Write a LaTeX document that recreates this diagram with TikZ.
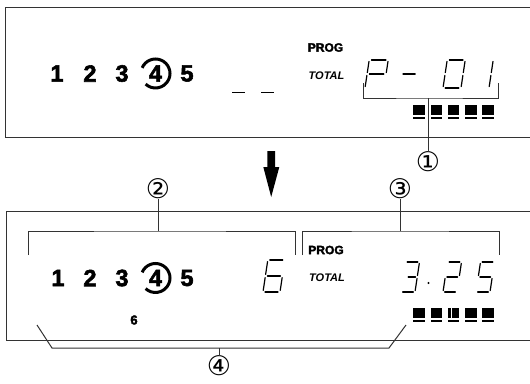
\documentclass[tikz,border=0pt]{standalone}
\usepackage{fontspec}
\setmainfont{Liberation Sans}
\newfontfamily\heavyfont{Liberation Sans}[BoldFeatures={FakeBold=2.5}]
\newfontfamily\circfont{DejaVu Sans}
\def\dgP{0.12/1/0.88/1, 1/0.55/1/0.95, 0/0.55/0/0.95, 0.12/0.5/0.88/0.5, 0/0.05/0/0.45}
\def\dgDash{0.12/0.5/0.88/0.5}
\def\dgZero{0.12/1/0.88/1, 1/0.55/1/0.95, 1/0.05/1/0.45, 0.12/0/0.88/0, 0/0.05/0/0.45, 0/0.55/0/0.95}
\def\dgOne{1/0.55/1/0.95, 1/0.05/1/0.45}
\def\dgThree{0.12/1/0.88/1, 1/0.55/1/0.95, 1/0.05/1/0.45, 0.12/0/0.88/0, 0.35/0.5/0.88/0.5}
\def\dgTwo{0.12/1/0.88/1, 1/0.55/1/0.95, 0.12/0.5/0.88/0.5, 0/0.05/0/0.45, 0.12/0/0.88/0}
\def\dgFive{0.12/1/0.88/1, 0/0.55/0/0.95, 0.12/0.5/0.88/0.5, 1/0.05/1/0.45, 0.12/0/0.88/0}
\def\dgSix{0.12/1/0.88/1, 0/0.55/0/0.95, 0.12/0.5/0.88/0.5, 0/0.05/0/0.45, 1/0.05/1/0.45, 0.12/0/0.88/0}
\newcommand\ssd[5]{\foreach \ua/\va/\ub/\vb in #5 {\draw[segline] ({#1+\ua*#3+\va*0.15*#4},{#2-\va*#4}) -- ({#1+\ub*#3+\vb*0.15*#4},{#2-\vb*#4});}}
\begin{document}
\begin{tikzpicture}[x=1pt,y=-1pt,
  boxline/.style={line width=1pt, draw=black!80},
  brk/.style={line width=1pt, draw=black!80},
  segline/.style={line width=1.2pt, line cap=round},
  bigdigit/.style={font=\heavyfont\fontsize{23.5}{23.5}\selectfont\bfseries, inner sep=0pt},
  ring/.style={line width=3pt},
  prog/.style={font=\heavyfont\fontsize{12}{12}\selectfont\bfseries, inner sep=0pt},
  total/.style={font=\heavyfont\fontsize{11}{11}\selectfont\bfseries\itshape, inner sep=0pt},
  lbl/.style={font=\circfont\fontsize{27}{27}\selectfont, inner sep=0pt}]
\useasboundingbox (0,0) rectangle (530,383);
% ---------- top display ----------
\draw[boxline] (531,7.5) -- (5.5,7.5) -- (5.5,137) -- (531,137);
\node[bigdigit] (ta) at (57,73.5) {1};
\node[bigdigit] (tb) at (90,73.5) {2};
\node[bigdigit] (tc) at (122,73.5) {3};
\node[bigdigit] (td) at (155.5,73.5) {4};
\node[bigdigit] (te) at (187,73.5) {5};
\draw[ring] (td.center) ++(203:14.5) arc[start angle=203, end angle=493, radius=14.5];
\draw[line width=1.5pt] (232,92.5) -- (245,92.5);
\draw[line width=1.5pt] (261,92.5) -- (274,92.5);
\node[prog] (tp) at (325.5,47.5) {PROG};
\node[total] (tt) at (326.5,76) {TOTAL};
\ssd{365}{88}{19}{28}{\dgP}
\ssd{399}{88}{16}{28}{\dgDash}
\ssd{443}{88}{18}{28}{\dgZero}
\ssd{471}{88}{18}{28}{\dgOne}
\foreach \x in {413,430.5,447.5,465,482} {
  \fill (\x,105) rectangle ++(11.5,10);
  \fill (\x,117) rectangle ++(11.5,2);
}
\coordinate (b1l) at (363,83);
\coordinate (b1r) at (498,83);
\coordinate (b1m) at (428,98);
\draw[brk] (b1l) |- (b1m) -| (b1r);
\node[lbl] (n1) at (428,162) {①};
\draw[brk] (b1m) -- (n1.north);
% ---------- arrow ----------
\fill (267.3,151) -- (275,151) -- (275,167) -- (279.3,167) -- (271.2,197) -- (263.3,167) -- (267.3,167) -- cycle;
% ---------- bottom display ----------
\draw[boxline] (531,211) -- (6,211) -- (6,340) -- (531,340);
\node[bigdigit] (ba) at (58,278) {1};
\node[bigdigit] (bb) at (90,278) {2};
\node[bigdigit] (bc) at (122,278) {3};
\node[bigdigit] (bd) at (155.5,278) {4};
\node[bigdigit] (be) at (187,278) {5};
\draw[ring] (bd.center) ++(203:14.5) arc[start angle=203, end angle=493, radius=14.5];
\node[font=\heavyfont\fontsize{13}{13}\selectfont\bfseries, inner sep=0pt] (b6) at (134,320) {6};
\ssd{263}{292}{17}{32}{\dgSix}
\node[prog] (bp) at (326,250) {PROG};
\node[total] (bt) at (327,278) {TOTAL};
\ssd{401}{292}{14}{30}{\dgThree}
\fill (428.5,283) circle (1.1);
\ssd{443}{292}{14}{30}{\dgTwo}
\ssd{476}{292}{14}{30}{\dgFive}
\foreach \x in {413,430.5,447.5,465,482} {
  \fill (\x,308) rectangle ++(11.5,10);
  \fill (\x,320) rectangle ++(11.5,2);
}
\draw[white, line width=1pt] (451.5,308) -- (451.5,318);
% bracket 2
\node[lbl] (n2) at (158,189) {②};
\coordinate (b2l) at (28,255);
\coordinate (b2r) at (295,255);
\coordinate (b2m) at (158,231);
\draw[brk] (b2l) |- (b2m) -| (b2r);
\draw[brk] (n2.south) -- (b2m);
% bracket 3
\node[lbl] (n3) at (400,189) {③};
\coordinate (b3l) at (302,255);
\coordinate (b3r) at (499,255);
\coordinate (b3m) at (400,231);
\draw[brk] (b3l) |- (b3m) -| (b3r);
\draw[brk] (n3.south) -- (b3m);
% bracket 4
\node[lbl] (n4) at (219,366) {④};
\coordinate (b4a) at (37,325);
\coordinate (b4b) at (52,348);
\coordinate (b4c) at (389,348);
\coordinate (b4d) at (406,325);
\coordinate (b4m) at (219,348);
\draw[brk] (b4a) -- (b4b) -- (b4c) -- (b4d);
\draw[brk] (b4m) -- (n4.north);
\end{tikzpicture}
\end{document}
